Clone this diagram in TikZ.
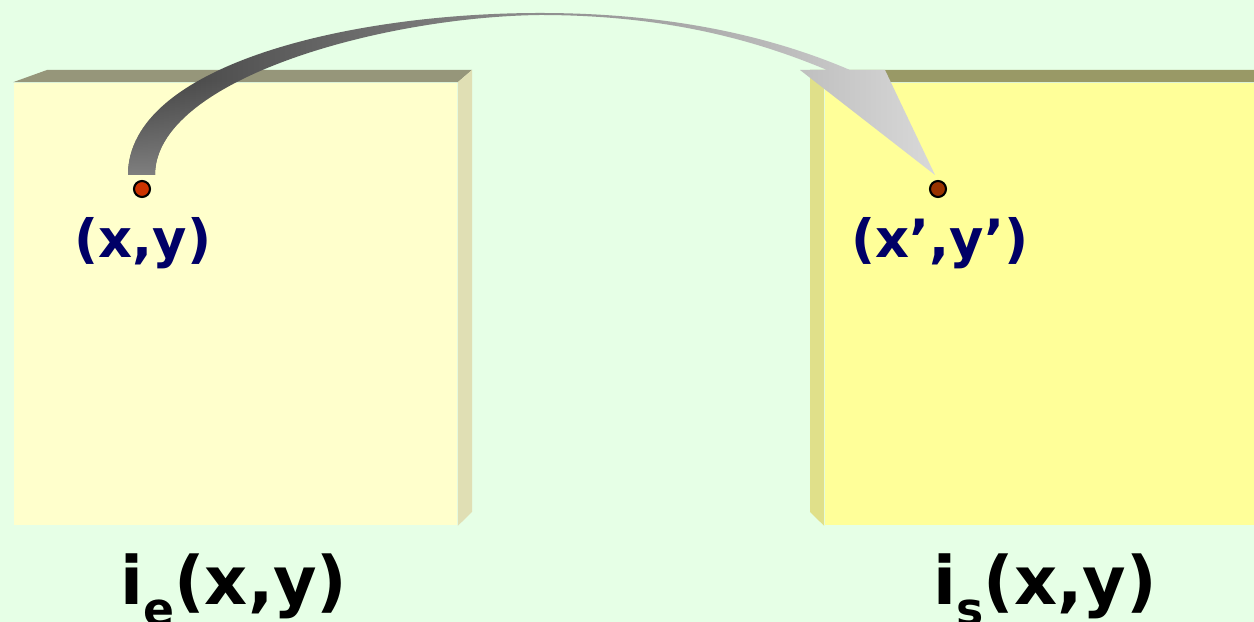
\documentclass[tikz,border=0pt]{standalone}
\usepackage{fontspec}
\setmainfont{DejaVu Sans}
\usetikzlibrary{fadings}

\definecolor{bgmint}{HTML}{E6FFE6}
\definecolor{faceE}{HTML}{FFFFCC}
\definecolor{topE}{HTML}{96967A}
\definecolor{sideE}{HTML}{E0DFB4}
\definecolor{faceS}{HTML}{FFFF99}
\definecolor{topS}{HTML}{999966}
\definecolor{sideS}{HTML}{E0E08A}
\definecolor{ptnavy}{HTML}{000066}
\definecolor{dotE}{HTML}{CC3300}
\definecolor{dotS}{HTML}{993300}

\begin{document}
\begin{tikzpicture}[
    x=0.01cm, y=-0.01cm,
    face/.style={rectangle, draw=none, inner sep=0pt, minimum width=4.43cm, minimum height=4.42cm},
    pixel/.style={circle, draw=black, line width=0.6pt, inner sep=0pt, minimum size=0.16cm},
    coordlabel/.style={font=\fontsize{15}{17}\selectfont\bfseries, text=ptnavy, anchor=base, inner sep=0pt},
    imglabel/.style={font=\fontsize{19}{22}\selectfont\bfseries, anchor=base, inner sep=0pt}
]

% Background
\fill[bgmint] (0,0) rectangle (1254,622);
\useasboundingbox (0,0) rectangle (1254,622);

% Entrance image
\node[face, fill=faceE] (imgE) at (235.5,304) {};
\fill[topE] (imgE.north west) -- (47,70) -- (472,70) -- (imgE.north east) -- cycle;
\fill[sideE] (imgE.north east) -- (472,70) -- (472,512) -- (imgE.south east) -- cycle;

% Output image
\node[face, fill=faceS, minimum width=4.29cm] (imgS) at (1039.5,304) {};
\fill[topS] (810,70) -- (1254,70) -- (imgS.north east) -- (imgS.north west) -- cycle;
\fill[sideS] (810,70) -- (imgS.north west) -- (imgS.south west) -- (810,512) -- cycle;

% Mapping arrow
\shade[left color=black!75, middle color=black!62, right color=black!15]
    (128,175) .. controls (128,65) and (350,13) .. (540,13)
    .. controls (680,13) and (780,40) .. (850,70) -- (885,70) -- (935,175) -- (800,70) -- (827,70)
    .. controls (760,42) and (670,15) .. (540,15) .. controls (380,17) and (155,80) .. (155,175) -- cycle;
\begin{scope}
  \clip (128,175) .. controls (128,65) and (350,13) .. (540,13) -- (540,15)
      .. controls (380,17) and (155,80) .. (155,175) -- cycle;
  \fill[black!50, path fading=north] (110,80) rectangle (260,176);
\end{scope}

% Points
\node[pixel, fill=dotE] (srcpt) at (142,189) {};
\node[pixel, fill=dotS] (dstpt) at (938,189) {};
\node[coordlabel] (srclbl) at (143,258) {(x,y)};
\node[coordlabel] (dstlbl) at (940,258) {(x’,y’)};

% Captions
\node[imglabel] (capE) at (234,605) {i\raisebox{-5.7pt}{\fontsize{13}{13}\selectfont e}(x,y)};
\node[imglabel] (capS) at (1045,605) {i\raisebox{-5.7pt}{\fontsize{13}{13}\selectfont s}(x,y)};

\end{tikzpicture}
\end{document}
